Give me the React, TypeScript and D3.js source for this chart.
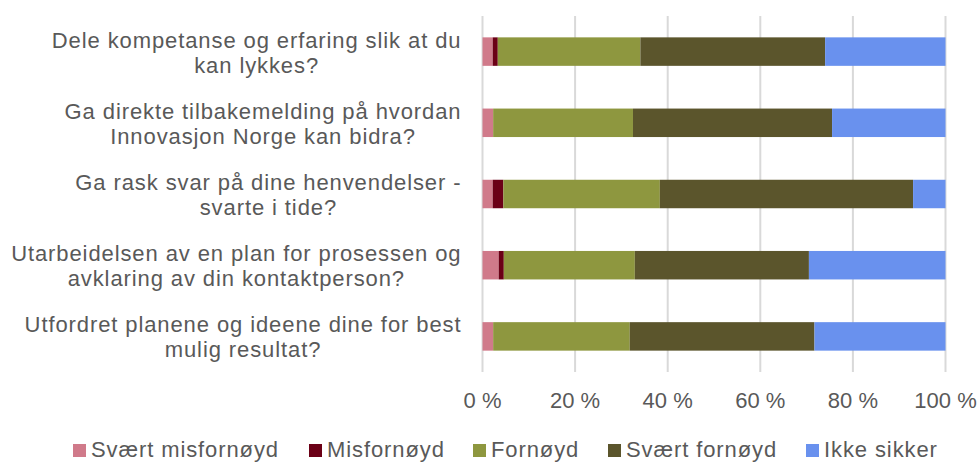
import React from "react";
import * as d3 from "d3";

const categories: string[][] = [
  ["Dele kompetanse og erfaring slik at du", "kan lykkes?"],
  ["Ga direkte tilbakemelding på hvordan", "Innovasjon Norge kan bidra?"],
  ["Ga rask svar på dine henvendelser -", "svarte i tide?"],
  ["Utarbeidelsen av en plan for prosessen og", "avklaring av din kontaktperson?"],
  ["Utfordret planene og ideene dine for best", "mulig resultat?"],
];
const seriesNames = ["Svært misfornøyd", "Misfornøyd", "Fornøyd", "Svært fornøyd", "Ikke sikker"];
const seriesColors = ["#D07A8A", "#6B0016", "#8E973F", "#5B552C", "#6991EE"];
const sværtMisfornøyd = [2.2, 2.3, 2.2, 3.5, 2.3];
const misfornøyd = [1.1, 0, 2.3, 1.1, 0];
const fornøyd = [30.8, 30.2, 33.8, 28.3, 29.5];
const sværtFornøyd = [39.9, 43.0, 54.7, 37.6, 39.9];
const ikkeSikker = [26.0, 24.5, 7.0, 29.5, 28.3];
const ticks = [0, 20, 40, 60, 80, 100];

const W = 980, H = 462;
const FONT = "'Liberation Sans', Arial, sans-serif";
const TEXT = "#595959";
const FS = 22;
const LS = 0.9;

let ctx: CanvasRenderingContext2D | null = null;
function measure(s: string): number {
  if (!ctx) {
    const c = document.createElement("canvas");
    ctx = c.getContext("2d");
  }
  if (!ctx) return s.length * FS * 0.5;
  ctx.font = `${FS}px 'Liberation Sans', Arial, sans-serif`;
  return ctx.measureText(s).width + LS * (s.length - 1);
}

export default function App() {
  const x = d3.scaleLinear().domain([0, 100]).range([482.5, 945.5]);
  const y = d3.scaleBand<number>().domain(d3.range(categories.length)).range([16, 372]).paddingInner(0.6).paddingOuter(0.3);
  const data = categories.map((_, i) => ({
    i,
    v: [sværtMisfornøyd[i], misfornøyd[i], fornøyd[i], sværtFornøyd[i], ikkeSikker[i]],
  }));
  const stack = d3.stack<any, number>().keys(d3.range(5)).value((d: any, k: number) => d.v[k]);
  const stacked = stack(data);

  const legendX = [73, 309, 473, 608, 806];

  return (
    <svg width={W} height={H} style={{ position: "absolute", left: 0, top: 0, display: "block", background: "#fff" }} fontFamily={FONT}>
      {ticks.map((t) => (
        <line key={t} x1={x(t)} x2={x(t)} y1={16} y2={372} stroke="#D9D9D9" strokeWidth={2} />
      ))}
      {stacked.map((layer, k) => (
        <g key={k} fill={seriesColors[k]}>
          {layer.map((d, i) => (
            d[1] - d[0] > 0 ? (
              <rect key={i} x={x(d[0])} y={y(i)!} width={x(d[1]) - x(d[0])} height={y.bandwidth()} />
            ) : null
          ))}
        </g>
      ))}
      {categories.map((lines, i) => {
        const c = y(i)! + y.bandwidth() / 2;
        const w = Math.max(...lines.map(measure));
        const cx = 461 - w / 2;
        return (
          <text key={i} textAnchor="middle" fontSize={FS} fill={TEXT} letterSpacing={LS}>
            {lines.map((l, j) => (
              <tspan key={j} x={cx} y={c - 4 + j * 25}>{l}</tspan>
            ))}
          </text>
        );
      })}
      {ticks.map((t) => (
        <text key={t} x={x(t)} y={408} textAnchor="middle" fontSize={FS} fill={TEXT}>{t} %</text>
      ))}
      {seriesNames.map((n, k) => (
        <g key={n}>
          <rect x={legendX[k]} y={444} width={13} height={13} fill={seriesColors[k]} />
          <text x={legendX[k] + 18} y={457} fontSize={FS} fill={TEXT} letterSpacing={LS}>{n}</text>
        </g>
      ))}
    </svg>
  );
}
